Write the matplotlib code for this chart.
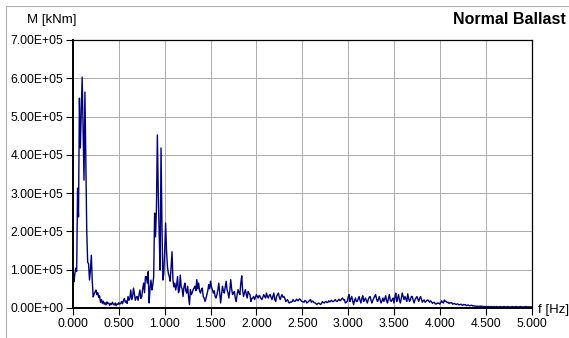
import numpy as np
import matplotlib
matplotlib.use("Agg")
import matplotlib.pyplot as plt
from matplotlib.patches import Rectangle
from matplotlib.ticker import FuncFormatter

# Spectrum of bending moment, values in 1e3 kNm, frequency step 0.01 Hz from 0.00 Hz
freq_step = 0.01
moment_k = [
    110, 68, 88, 104, 96, 313, 238, 548, 418, 510,      # 0.00
    603, 470, 334, 564, 380, 200, 120, 115, 73, 100,    # 0.10
    138, 70, 29, 36, 42, 47, 35, 40, 28, 32,            # 0.20
    15, 22, 12, 18, 10, 14, 8, 16, 11, 13,              # 0.30
    7, 12, 9, 15, 10, 8, 13, 6, 11, 9,                  # 0.40
    14, 10, 12, 17, 11, 20, 25, 15, 18, 12,             # 0.50
    30, 20, 26, 47, 22, 30, 52, 35, 20, 28,             # 0.60
    30, 20, 35, 47, 25, 30, 50, 65, 40, 82,             # 0.70
    82, 65, 95, 13, 50, 73, 47, 60, 82, 248,            # 0.80
    186, 260, 452, 300, 190, 99, 418, 220, 73, 90,      # 0.90
    150, 222, 150, 108, 90, 82, 70, 110, 147, 73,       # 1.00
    55, 65, 47, 60, 82, 40, 47, 86, 55, 50,             # 1.10
    30, 55, 65, 45, 39, 57, 30, 9, 48, 35,              # 1.20
    40, 48, 52, 57, 45, 74, 50, 65, 45, 39,             # 1.30
    48, 52, 30, 26, 17, 25, 35, 45, 61, 50,             # 1.40
    70, 55, 48, 39, 45, 30, 26, 35, 48, 65,             # 1.50
    40, 13, 35, 57, 45, 39, 55, 70, 48, 40,             # 1.60
    26, 45, 74, 50, 35, 40, 43, 25, 17, 35,             # 1.70
    48, 40, 35, 65, 84, 45, 30, 40, 48, 35,             # 1.80
    26, 43, 38, 35, 17, 25, 26, 30, 22, 28,             # 1.90
    35, 30, 26, 33, 30, 25, 22, 28, 35, 30,             # 2.00
    26, 39, 30, 26, 33, 35, 28, 22, 30, 39,             # 2.10
    22, 17, 30, 35, 39, 28, 22, 30, 35, 28,             # 2.20
    30, 25, 17, 20, 22, 15, 13, 16, 15, 17,             # 2.30
    22, 18, 17, 20, 23, 19, 20, 24, 22, 18,             # 2.40
    17, 16, 15, 20, 18, 13, 15, 17, 20, 22,             # 2.50
    15, 18, 17, 14, 13, 11, 9, 12, 13, 11,              # 2.60
    9, 12, 17, 14, 13, 16, 17, 14, 15, 19,              # 2.70
    16, 18, 20, 17, 17, 19, 22, 18, 17, 20,             # 2.80
    23, 19, 20, 24, 26, 21, 22, 13, 15, 17,             # 2.90
    28, 35, 17, 24, 30, 18, 9, 20, 26, 17,              # 3.00
    17, 24, 30, 20, 13, 25, 32, 17, 22, 26,             # 3.10
    19, 13, 22, 28, 30, 20, 13, 20, 26, 31,             # 3.20
    35, 24, 17, 22, 30, 20, 13, 19, 26, 17,             # 3.30
    24, 32, 18, 13, 25, 35, 20, 17, 22, 26,             # 3.40
    13, 28, 39, 17, 25, 35, 20, 13, 25, 39,             # 3.50
    30, 22, 30, 24, 17, 37, 25, 17, 22, 30,             # 3.60
    30, 20, 13, 22, 26, 30, 24, 17, 25, 30,             # 3.70
    23, 15, 19, 21, 15, 17, 20, 21, 18, 15,             # 3.80
    19, 16, 12, 14, 15, 11, 10, 13, 12, 13,             # 3.90
    10, 14, 19, 15, 13, 21, 18, 17, 14, 15,             # 4.00
    12, 14, 13, 14, 10, 11, 12, 10, 9, 11,              # 4.10
    10, 8, 9, 10, 8, 7, 9, 8, 9, 6,                     # 4.20
    7, 8, 6, 6, 7, 7, 5, 6, 5, 5,                       # 4.30
    4, 5, 4, 4, 5, 4, 5, 3, 4, 4,                       # 4.40
    3, 4, 3, 4, 3, 3, 4, 3, 3, 4,                       # 4.50
    3, 3, 4, 3, 3, 3, 4, 3, 3, 3,                       # 4.60
    4, 3, 3, 3, 4, 3, 3, 3, 3, 4,                       # 4.70
    3, 3, 3, 4, 3, 3, 3, 3, 4, 3,                       # 4.80
    3, 3, 3, 3, 4, 3, 3, 3, 3, 3,                       # 4.90
    3,                                                  # 5.00
]
x_ticks = [0.0, 0.5, 1.0, 1.5, 2.0, 2.5, 3.0, 3.5, 4.0, 4.5, 5.0]
y_ticks = [0, 1e5, 2e5, 3e5, 4e5, 5e5, 6e5, 7e5]

freq = np.round(np.arange(len(moment_k)) * freq_step, 2)
moment = np.array(moment_k, dtype=float) * 1e3

plt.rcParams['font.family'] = ['Liberation Sans', 'DejaVu Sans']

W, H = 569, 338
fig = plt.figure(figsize=(W / 100, H / 100), dpi=100)
fig.patch.set_facecolor('white')

# outer light frame
fig.patches.append(Rectangle((6 / W, -0.05), 1.1, 1 - 6 / H + 0.05, transform=fig.transFigure,
                             fill=False, edgecolor='#b0b0b0', linewidth=0.8))

ax = fig.add_axes([73 / W, 1 - 308 / H, (531.5 - 73) / W, (308 - 40) / H])
ax.plot(freq, moment, color='#000080', linewidth=1.0, zorder=3)

ax.set_xlim(0, 5)
ax.set_ylim(0, 7e5)
ax.set_xticks(x_ticks)
ax.set_yticks(y_ticks)
ax.xaxis.set_major_formatter(FuncFormatter(lambda v, p: f"{v:.3f}"))
ax.yaxis.set_major_formatter(FuncFormatter(lambda v, p: f"{v:.2E}"))
ax.tick_params(axis='both', labelsize=8.7, length=5, width=0.8, color='black', pad=2)
ax.grid(True, color='#ababab', linewidth=0.7)
ax.set_axisbelow(True)

for s in ['left', 'bottom']:
    ax.spines[s].set_linewidth(1.4)
for s in ['top', 'right']:
    ax.spines[s].set_linewidth(0.9)
for s in ax.spines.values():
    s.set_color('black')
    s.set_zorder(4)

fig.text(52 / W, 1 - 20 / H, 'M [kNm]', fontsize=9.5, ha='center', va='center')
fig.text(566 / W, 1 - 20 / H, 'Normal Ballast', fontsize=11.5, fontweight='bold', ha='right', va='center')
fig.text(538 / W, 1 - 310 / H, 'f [Hz]', fontsize=9.5, ha='left', va='center')

fig.savefig('out.png', dpi=100)
